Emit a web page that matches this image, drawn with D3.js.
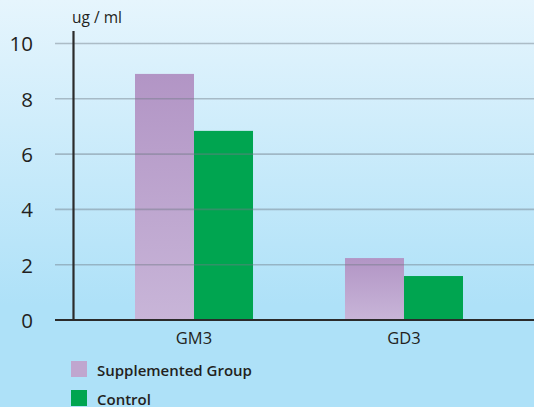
<!DOCTYPE html>
<html><head><meta charset="utf-8">
<script src="https://cdn.jsdelivr.net/npm/d3@7"></script>
<style>html,body{margin:0;padding:0;overflow:hidden}svg{display:block}</style>
</head><body>
<svg id="c" width="534" height="407"></svg>
<script>
const categories = ["GM3", "GD3"];
const seriesNames = ["Supplemented Group", "Control"];
const supplemented = [8.9, 2.24];
const control = [6.84, 1.59];
const yTicks = [0, 2, 4, 6, 8, 10];
const yLabel = "ug / ml";

const W = 534, H = 407;
const svg = d3.select("#c");
const defs = svg.append("defs");
const bg = defs.append("linearGradient").attr("id","bg").attr("x1",0).attr("y1",0).attr("x2",0).attr("y2",1);
bg.append("stop").attr("offset","0%").attr("stop-color","#e6f5fd");
bg.append("stop").attr("offset","75%").attr("stop-color","#aee1f8");
bg.append("stop").attr("offset","100%").attr("stop-color","#aee1f8");
const pg = defs.append("linearGradient").attr("id","pg").attr("x1",0).attr("y1",0).attr("x2",0).attr("y2",1);
pg.append("stop").attr("offset","0%").attr("stop-color","#b295c5");
pg.append("stop").attr("offset","100%").attr("stop-color","#c8b5d8");

svg.append("rect").attr("width",W).attr("height",H).attr("fill","url(#bg)");

const y = d3.scaleLinear().domain([0,10]).range([320,43.5]);
const x0 = d3.scaleBand().domain(categories).range([75,523]).paddingInner(0.438).paddingOuter(0.2857);
const x1 = d3.scaleBand().domain(seriesNames).range([0,x0.bandwidth()]);
const colors = {"Supplemented Group":"url(#pg)","Control":"#00a550"};
const data = categories.map((c,i)=>({cat:c, vals:[{s:seriesNames[0],v:supplemented[i]},{s:seriesNames[1],v:control[i]}]}));

// bars
const g = svg.append("g");
g.selectAll("g.cat").data(data).join("g").attr("class","cat")
  .attr("transform",d=>`translate(${x0(d.cat)},0)`)
  .selectAll("rect").data(d=>d.vals).join("rect")
  .attr("x",d=>x1(d.s)).attr("width",x1.bandwidth())
  .attr("y",d=>y(d.v)).attr("height",d=>y(0)-y(d.v))
  .attr("fill",d=>colors[d.s]);

// gridlines
svg.append("g").selectAll("line").data(yTicks.filter(t=>t>0)).join("line")
  .attr("x1",55).attr("x2",W).attr("y1",d=>y(d)).attr("y2",d=>y(d))
  .attr("stroke","#6f7a84").attr("stroke-opacity",0.45).attr("stroke-width",1.6);

// y axis labels
const ya = svg.append("g").attr("transform","translate(33,0)")
  .call(d3.axisLeft(y).tickValues(yTicks).tickSize(0).tickPadding(0));
ya.select(".domain").remove();
ya.selectAll("text").attr("font-family","Open Sans").attr("font-size",20.5).attr("fill","#231f20").attr("dy","0.36em");

// baseline
svg.append("line").attr("x1",55).attr("x2",W).attr("y1",y(0)).attr("y2",y(0))
  .attr("stroke","#2b2b2b").attr("stroke-width",2.2);
// y axis line
svg.append("line").attr("x1",73.5).attr("x2",73.5).attr("y1",31).attr("y2",y(0))
  .attr("stroke","#2b2b2b").attr("stroke-width",2.2);

// x labels
const xa = svg.append("g").attr("transform",`translate(0,${y(0)})`)
  .call(d3.axisBottom(x0).tickSize(0).tickPadding(0));
xa.select(".domain").remove();
xa.selectAll("text").attr("font-family","Open Sans").attr("font-size",16.5).attr("fill","#231f20").attr("dy","24").attr("y",0);

svg.append("text").attr("x",72).attr("y",23).text(yLabel)
  .attr("font-family","Open Sans").attr("font-size",15.5).attr("fill","#231f20");

// legend
const lg = svg.append("g").selectAll("g").data(seriesNames).join("g")
  .attr("transform",(d,i)=>`translate(71,${361+i*29})`);
lg.append("rect").attr("width",16).attr("height",16).attr("fill",(d,i)=>i===0?"#c0a6cf":"#00a550");
lg.append("text").attr("x",26).attr("y",14.5).text(d=>d)
  .attr("font-family","Open Sans").attr("font-weight",600).attr("font-size",15).attr("fill","#231f20");
</script>
</body></html>
